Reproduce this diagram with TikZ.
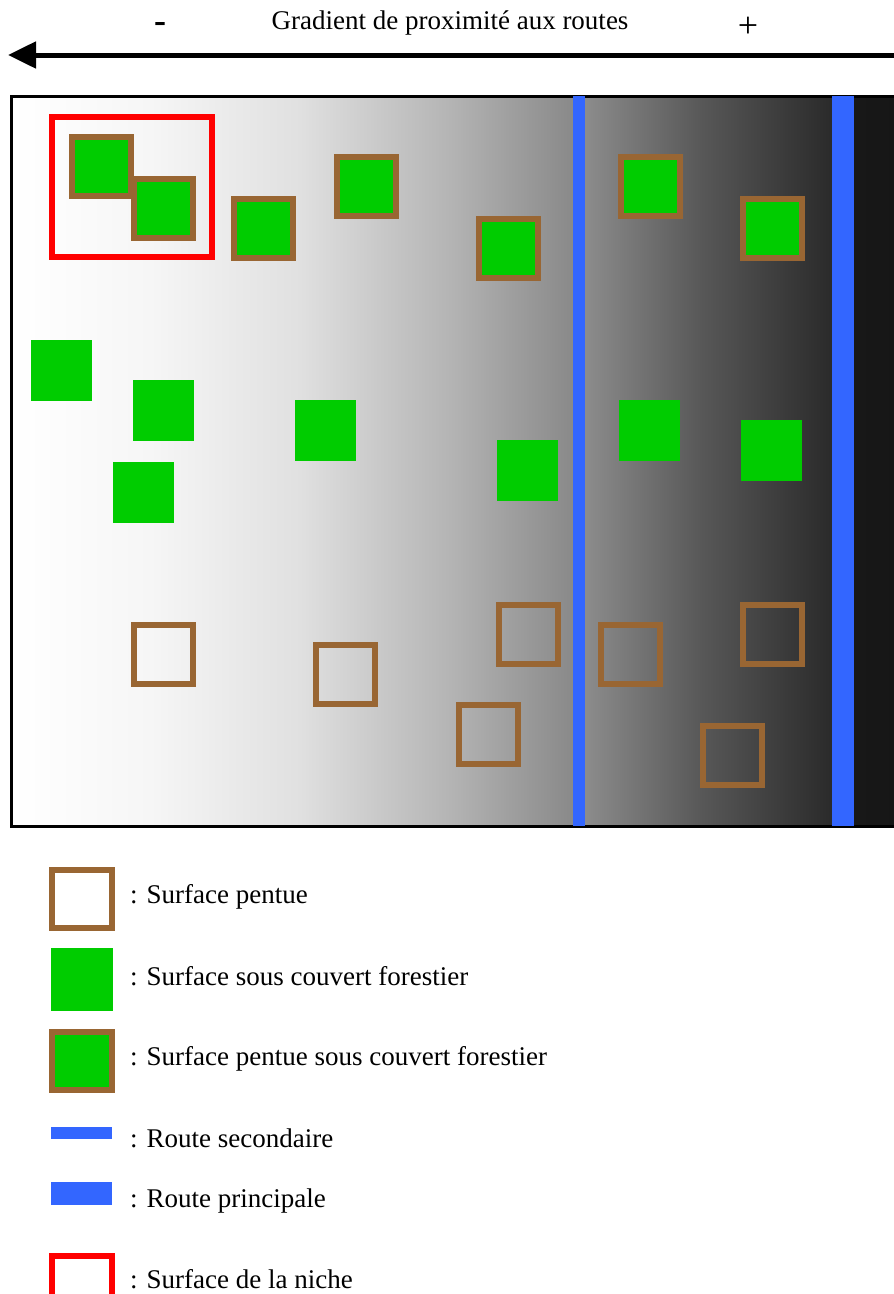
\documentclass[tikz,border=0pt]{standalone}
\usepackage{fontspec}
\setmainfont{Liberation Serif}
\usetikzlibrary{arrows.meta}
\definecolor{brn}{RGB}{153,102,51}
\definecolor{grn}{RGB}{0,204,0}
\definecolor{blu}{RGB}{51,102,255}
\definecolor{rd}{RGB}{255,0,0}
\definecolor{sa}{RGB}{255,255,255}
\definecolor{sb}{RGB}{246,246,246}
\definecolor{sc}{RGB}{224,224,224}
\definecolor{sd}{RGB}{180,180,180}
\definecolor{se}{RGB}{137,137,137}
\definecolor{sf}{RGB}{140,140,140}
\definecolor{sg}{RGB}{88,88,88}
\definecolor{sh}{RGB}{42,42,42}
\definecolor{si}{RGB}{24,24,24}
\definecolor{sj}{RGB}{22,22,22}
\begin{document}
\begin{tikzpicture}[x=1pt,y=-1pt,
  slopebox/.style={draw=brn,line width=6pt},
  forestbox/.style={fill=grn},
  slopeforest/.style={draw=brn,fill=grn,line width=6pt},
  nichebox/.style={draw=rd,line width=6pt},
  road/.style={fill=blu},
  txt/.style={inner sep=0pt,font=\fontsize{27}{32}\selectfont},
  lbl/.style={txt,anchor=base west}]
\useasboundingbox (0,0) rectangle (894,1294);

% background gradient
\shade[left color=sa,right color=sb] (11,96) rectangle (150.5,826);
\shade[left color=sb,right color=sc] (150,96) rectangle (300.5,826);
\shade[left color=sc,right color=sd] (300,96) rectangle (450.5,826);
\shade[left color=sd,right color=se] (450,96) rectangle (573.5,826);
\shade[left color=se,right color=sf] (573,96) rectangle (585.5,826);
\shade[left color=sf,right color=sg] (585,96) rectangle (700.5,826);
\shade[left color=sg,right color=sh] (700,96) rectangle (832.5,826);
\shade[left color=sh,right color=si] (832,96) rectangle (854.5,826);
\shade[left color=si,right color=sj] (854,96) rectangle (900,826);

% frame
\draw[line width=3pt] (905,96) -- (11,96) -- (11,826) -- (905,826);

% niche
\draw[nichebox] (52,117) rectangle (212,257);

% slope + forest squares
\foreach \x/\y in {69/134,131/176,231/196,334/154,476/216,618/154,740/196}
  \draw[slopeforest] (\x+3,\y+3) rectangle (\x+62,\y+62);

% forest squares
\foreach \x/\y in {31/340,133/380,113/462,295/400,497/440,619/400,741/420}
  \fill[grn] (\x,\y) rectangle (\x+61,\y+61);

% slope squares
\foreach \x/\y in {131/622,313/642,496/602,456/702,598/622,740/602,700/723}
  \draw[slopebox] (\x+3,\y+3) rectangle (\x+62,\y+62);

% roads
\fill[road] (573,96) rectangle (585,826);
\fill[road] (832,96) rectangle (854,826);

% gradient arrow
\coordinate (arrR) at (900,55);
\coordinate (arrL) at (8,55);
\draw[line width=5pt,-{Triangle[length=28pt,width=26pt]}] (arrR) -- (arrL);
\node[txt,anchor=base] (title) at (450,29) {Gradient de proximité aux routes};
\node[txt,anchor=base,font=\fontsize{36}{40}\selectfont\bfseries] (minus) at (160,32) {-};
\node[txt,font=\fontsize{36}{40}\selectfont] (plus) at (748,27) {+};

% legend
\draw[slopebox] (52,870) rectangle (112,928);
\node[lbl] (l1) at (130,903) {: Surface pentue};
\fill[grn] (51,948) rectangle (113,1011);
\node[lbl] (l2) at (130,985) {: Surface sous couvert forestier};
\draw[slopeforest] (52,1032) rectangle (112,1090);
\node[lbl] (l3) at (130,1065) {: Surface pentue sous couvert forestier};
\fill[road] (51,1127) rectangle (112,1139);
\node[lbl] (l4) at (130,1147) {: Route secondaire};
\fill[road] (51,1182) rectangle (112,1205);
\node[lbl] (l5) at (130,1207) {: Route principale};
\draw[nichebox] (52,1256) rectangle (112,1318);
\node[lbl] (l6) at (130,1288) {: Surface de la niche};
\end{tikzpicture}
\end{document}
